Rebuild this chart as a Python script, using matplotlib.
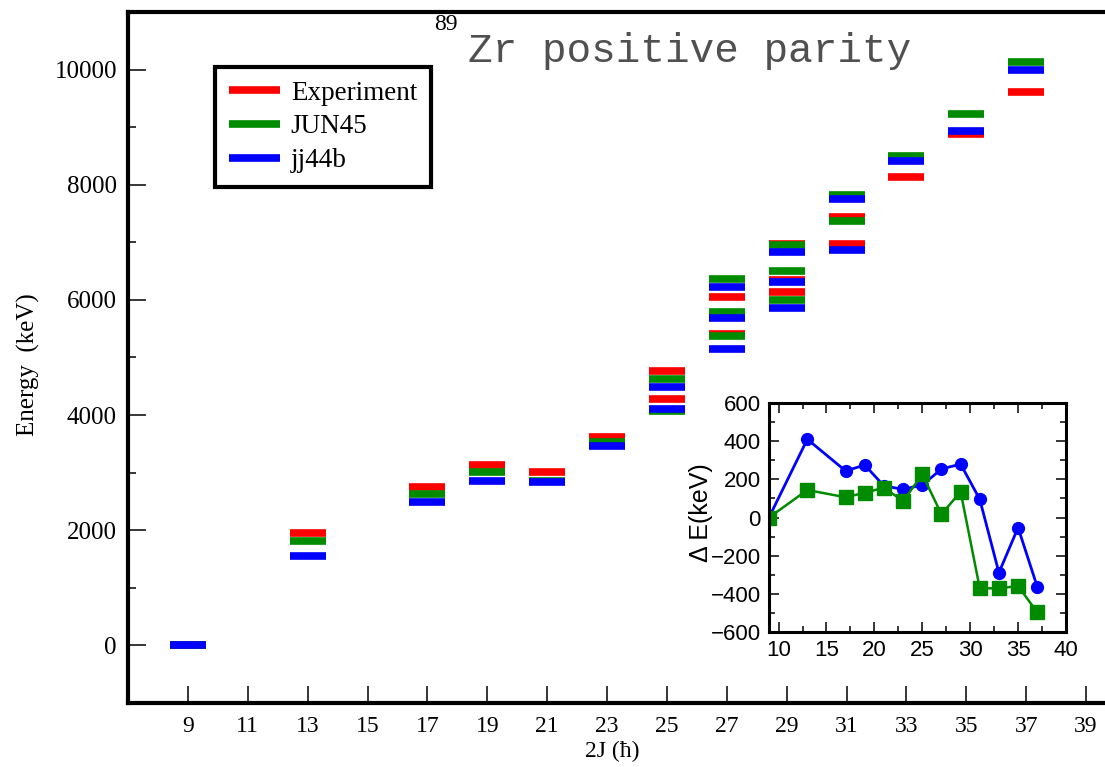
import numpy as np
import matplotlib
matplotlib.use("Agg")
import matplotlib.pyplot as plt
from matplotlib.ticker import MultipleLocator

# level energies (keV), by 2J
exp_2j = [9, 13, 17, 19, 21, 23, 25, 25, 27, 27, 29, 29, 29, 31, 31, 33, 35, 37]
exp_e = [0, 1959, 2744, 3140, 3006, 3620, 4284, 4765, 5400, 6052,
         6134, 6345, 6970, 6979, 7438, 8127, 8885, 9617]

jun45_2j = [9, 13, 17, 19, 21, 23, 25, 25, 27, 27, 27, 29, 29, 29, 31, 31, 33, 35, 37]
jun45_e = [0, 1820, 2634, 3005, 2850, 3540, 4075, 4626, 5380, 5797, 6359,
           5994, 6498, 6953, 7362, 7814, 8500, 9229, 10127]

jj44b_2j = [9, 13, 17, 19, 21, 23, 25, 25, 27, 27, 27, 29, 29, 29, 31, 31, 33, 35, 37]
jj44b_e = [0, 1545, 2497, 2862, 2845, 3470, 4110, 4481, 5150, 5686, 6220,
           5855, 6305, 6834, 6875, 7744, 8413, 8932, 9987]

# inset: E(exp) - E(th) for the yrast states
diff_2j = [9, 13, 17, 19, 21, 23, 25, 27, 29, 31, 33, 35, 37]
diff_jj44b = [0, 410, 244, 275, 165, 148, 170, 254, 280, 95, -289, -53, -363]
diff_jun45 = [0, 144, 106, 130, 156, 86, 226, 17, 135, -371, -371, -359, -497]

xticks = list(range(9, 40, 2))

RED = "#ff0000"
GREEN = "#008b00"
BLUE = "#0000ff"
SERIF = ["Liberation Serif", "DejaVu Serif"]
SANS = ["Liberation Sans", "DejaVu Sans"]

W, H = 1105, 767
fig = plt.figure(figsize=(W / 100, H / 100), dpi=100)
fig.patch.set_facecolor("white")

ax = fig.add_axes([128 / W, 64 / H, 988 / W, 691 / H])
half = 0.6
for xs, es, c, lab in [(exp_2j, exp_e, RED, "Experiment"),
                       (jun45_2j, jun45_e, GREEN, "JUN45"),
                       (jj44b_2j, jj44b_e, BLUE, "jj44b")]:
    xs = np.array(xs)
    ax.hlines(es, xs - half, xs + half, colors=c, linewidth=5.5, label=lab)

ax.set_xlim(7, 40)
ax.set_ylim(-1000, 11000)
ax.set_xticks(xticks)
ax.yaxis.set_major_locator(MultipleLocator(2000))
ax.yaxis.set_minor_locator(MultipleLocator(1000))
ax.tick_params(axis="y", which="major", direction="in", length=13, width=1.1, pad=8)
ax.tick_params(axis="y", which="minor", direction="in", length=6, width=1.1)
ax.tick_params(axis="x", which="major", direction="in", length=12, width=1.1, pad=9)
for lbl in ax.get_yticklabels():
    lbl.set_family(SERIF)
    lbl.set_fontsize(18)
for lbl in ax.get_xticklabels():
    lbl.set_family(SERIF)
    lbl.set_fontsize(17)
for s in ax.spines.values():
    s.set_linewidth(3)

ax.set_ylabel("Energy  (keV)", family=SERIF, fontsize=18)
ax.yaxis.set_label_coords(-0.089, 0.49)
ax.set_xlabel("2J (\u0127)", family=SERIF, fontsize=17)
ax.xaxis.set_label_coords(0.49, -0.055)

leg = ax.legend(loc="upper left", bbox_to_anchor=(215 / W, 1 - 67 / H),
                bbox_transform=fig.transFigure, fancybox=False,
                edgecolor="black", framealpha=1, borderaxespad=0,
                prop={"family": SERIF, "size": 19.5}, handlelength=1.9,
                handletextpad=0.4, borderpad=0.5, labelspacing=0.33)
leg.get_frame().set_linewidth(3)

fig.text(446 / W, 1 - 25 / H, "89", family=SERIF, fontsize=17,
         ha="center", va="center")
fig.text(468 / W, 1 - 62 / H, "Zr positive parity", family="Liberation Mono",
         fontsize=29.5, va="baseline", color="#505050")

# inset with the differences
ins = fig.add_axes([769 / W, (H - 632) / H, 297 / W, 229 / H])
ins.plot(diff_2j, diff_jj44b, "-o", color=BLUE, lw=2, ms=8.5)
ins.plot(diff_2j, diff_jun45, "-s", color=GREEN, lw=1.8, ms=10)
ins.set_xlim(9, 40)
ins.set_ylim(-600, 600)
ins.xaxis.set_major_locator(MultipleLocator(5))
ins.xaxis.set_minor_locator(MultipleLocator(2.5))
ins.yaxis.set_major_locator(MultipleLocator(200))
ins.yaxis.set_minor_locator(MultipleLocator(100))
ins.tick_params(which="both", direction="in", top=True, right=True, width=1.1)
ins.tick_params(which="major", length=7, pad=6)
ins.tick_params(which="minor", length=4)
for lbl in ins.get_xticklabels() + ins.get_yticklabels():
    lbl.set_family(SANS)
    lbl.set_fontsize(16)
for s in ins.spines.values():
    s.set_linewidth(2.2)
ins.set_ylabel("\u0394 E(keV)", family=SANS, fontsize=18)
ins.yaxis.set_label_coords(-0.19, 0.52)

fig.savefig("out.png", dpi=100)
